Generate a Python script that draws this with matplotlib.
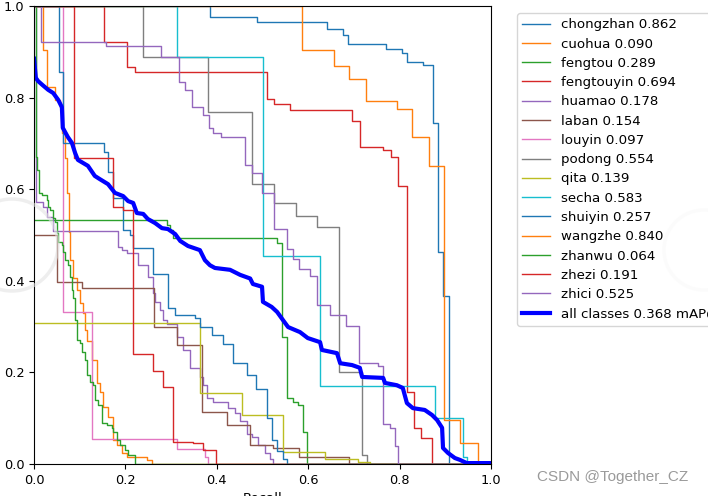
import matplotlib
matplotlib.use("Agg")
import matplotlib.pyplot as plt
from matplotlib.patches import Ellipse

# ---------------- data (recall breakpoints / precision held until next breakpoint) ----------------
names = ["chongzhan", "cuohua", "fengtou", "fengtouyin", "huamao", "laban", "louyin",
         "podong", "qita", "secha", "shuiyin", "wangzhe", "zhanwu", "zhezi", "zhici"]
ap50 = [0.862, 0.090, 0.289, 0.694, 0.178, 0.154, 0.097,
        0.554, 0.139, 0.583, 0.257, 0.840, 0.064, 0.191, 0.525]
map50 = 0.368

chongzhan_r = [0, .385, .488, .641, .676, .687, .770, .805, .816, .851, .873, .884, .895, .908, 1.0]
chongzhan_p = [1.0, .976, .965, .950, .937, .917, .906, .897, .878, .871, .745, .463, .367, 0, 0]

cuohua_r = [0, .020, .028, .046, .057, .061, .068, .072, .077, .079, .085, .094, .101, .107,
            .112, .116, .127, .138, .144, .151, .162, .173, .182, .193, .204, .247, .258, 1.0]
cuohua_p = [1.0, .904, .823, .795, .779, .723, .668, .592, .507, .445, .406, .380, .352, .330,
            .293, .269, .227, .177, .157, .124, .103, .052, .041, .024, .015, .009, 0, 0]

fengtou_r = [0, .291, .298, .304, .532, .543, .554, .567, .578, .589, .598, 1.0]
fengtou_p = [.533, .522, .511, .493, .483, .277, .144, .135, .129, .070, 0, 0]

fengtouyin_r = [0, .153, .204, .221, .510, .525, .560, .696, .713, .764, .781, .796, .816, .832, .847, .870, 1.0]
fengtouyin_p = [1.0, .921, .867, .856, .797, .786, .773, .749, .692, .686, .670, .607, .157, .079, .057, 0, 0]

huamao_r = [0, .005, .020, .028, .042, .184, .193, .204, .228, .249, .260, .265, .276, .282, .291, .313,
            .326, .341, .363, .370, .379, .392, .425, .440, .451, .466, .477, .490, .505, .516, .523, 1.0]
huamao_p = [1.0, .572, .561, .539, .509, .474, .467, .461, .434, .408, .373, .354, .336, .314, .306, .277,
            .249, .210, .190, .172, .144, .135, .122, .111, .094, .066, .059, .041, .024, .012, 0, 0]

laban_r = [0, .050, .105, .263, .313, .368, .422, .473, .523, .580, .689, 1.0]
laban_p = [.500, .397, .384, .299, .260, .114, .085, .041, .035, .015, 0, 0]

louyin_r = [0, .063, .127, .313, .374, .381, 1.0]
louyin_p = [1.0, .332, .055, .033, .015, 0, 0]

podong_r = [0, .239, .381, .477, .525, .573, .619, .667, .718, .729, 1.0]
podong_p = [1.0, .889, .769, .611, .570, .541, .517, .201, .020, 0, 0]

qita_r = [0, .363, .455, .545, .637, .709, .735, 1.0]
qita_p = [.308, .155, .107, .026, .011, .004, 0, 0]

secha_r = [0, .313, .501, .626, .877, .939, .947, 1.0]
secha_p = [1.0, .889, .454, .170, .100, .015, 0, 0]

shuiyin_r = [0, .055, .063, .153, .162, .173, .195, .210, .217, .260, .293, .309, .352, .363,
             .389, .414, .435, .466, .486, .510, .521, .532, .545, .554, 1.0]
shuiyin_p = [1.0, .856, .701, .681, .638, .581, .511, .500, .472, .415, .341, .325, .319, .299,
             .282, .262, .221, .194, .164, .100, .052, .028, .012, 0, 0]

wangzhe_r = [0, .586, .656, .689, .726, .794, .827, .864, .897, .932, .972, 1.0]
wangzhe_p = [1.0, .904, .869, .841, .793, .775, .714, .651, .096, .046, 0, 0]

zhanwu_r = [0, .004, .007, .011, .018, .028, .031, .035, .042, .046, .050, .053, .061, .063, .068,
            .074, .079, .083, .085, .090, .094, .101, .105, .112, .116, .123, .129, .133, .140, .149,
            .160, .171, .173, .182, .188, .199, .206, .221, 1.0]
zhanwu_p = [1.0, .670, .642, .592, .587, .576, .561, .555, .537, .528, .504, .485, .478, .463, .445,
            .434, .408, .380, .362, .314, .271, .264, .245, .227, .194, .179, .172, .140, .129, .090,
            .085, .079, .070, .052, .041, .031, .020, 0, 0]

zhezi_r = [0, .088, .173, .195, .217, .260, .282, .304, .348, .370, .398, 1.0]
zhezi_p = [1.0, .668, .561, .555, .240, .203, .168, .048, .046, .031, 0, 0]

zhici_r = [0, .015, .158, .278, .317, .330, .346, .370, .383, .392, .409, .462, .477, .499, .525,
           .554, .567, .580, .604, .619, .648, .683, .711, .753, .764, .779, .790, .797, 1.0]
zhici_p = [1.0, .921, .913, .889, .834, .817, .779, .762, .734, .723, .714, .653, .635, .592, .513,
           .469, .448, .426, .410, .347, .325, .301, .221, .214, .087, .079, .040, 0, 0]

# mean curve (all classes)
all_r = [0.000, 0.004, 0.009, 0.018, 0.031, 0.042, 0.053, 0.061, 0.063, 0.074, 0.083, 0.090, 0.096,
         0.118, 0.133, 0.144, 0.162, 0.177, 0.195, 0.206, 0.217, 0.225, 0.239, 0.249, 0.265, 0.280,
         0.293, 0.309, 0.320, 0.337, 0.363, 0.374, 0.385, 0.396, 0.429, 0.451, 0.473, 0.479, 0.499,
         0.501, 0.520, 0.532, 0.545, 0.556, 0.582, 0.599, 0.626, 0.630, 0.663, 0.670, 0.696, 0.713,
         0.718, 0.764, 0.768, 0.794, 0.807, 0.816, 0.829, 0.855, 0.871, 0.882, 0.893, 0.895, 0.906,
         0.921, 0.932, 0.947, 1.000]
all_p = [0.885, 0.843, 0.836, 0.828, 0.817, 0.810, 0.795, 0.779, 0.734, 0.714, 0.701, 0.679, 0.664,
         0.651, 0.629, 0.622, 0.611, 0.592, 0.585, 0.574, 0.570, 0.548, 0.546, 0.535, 0.526, 0.515,
         0.513, 0.502, 0.487, 0.476, 0.467, 0.445, 0.434, 0.428, 0.424, 0.413, 0.405, 0.393, 0.387,
         0.354, 0.343, 0.332, 0.314, 0.299, 0.288, 0.275, 0.266, 0.249, 0.242, 0.220, 0.216, 0.210,
         0.190, 0.188, 0.177, 0.172, 0.166, 0.133, 0.122, 0.118, 0.107, 0.096, 0.079, 0.035, 0.024,
         0.013, 0.009, 0.002, 0.002]

curves = [(chongzhan_r, chongzhan_p), (cuohua_r, cuohua_p), (fengtou_r, fengtou_p),
          (fengtouyin_r, fengtouyin_p), (huamao_r, huamao_p), (laban_r, laban_p),
          (louyin_r, louyin_p), (podong_r, podong_p), (qita_r, qita_p), (secha_r, secha_p),
          (shuiyin_r, shuiyin_p), (wangzhe_r, wangzhe_p), (zhanwu_r, zhanwu_p),
          (zhezi_r, zhezi_p), (zhici_r, zhici_p)]

# ---------------- figure ----------------
W, H = 708, 496
fig = plt.figure(figsize=(W / 100, H / 100), dpi=100)
ax = fig.add_axes([34 / W, (H - 464) / H, 457 / W, 458 / H])

for name, ap, (r, p) in zip(names, ap50, curves):
    ax.plot(r, p, drawstyle="steps-post", linewidth=1, label=f"{name} {ap:.3f}")
ax.plot(all_r, all_p, linewidth=3, color="blue", label=f"all classes {map50:.3f} mAP@0.5")

ax.set_xlim(0, 1)
ax.set_ylim(0, 1)
ax.set_xlabel("Recall", fontsize=9.5)
ax.set_ylabel("Precision", fontsize=9.5)
ax.tick_params(labelsize=9.3)

fig.legend(*ax.get_legend_handles_labels(), loc="upper left",
           bbox_to_anchor=(517 / W, 1 - 13 / H), fontsize=9.6,
           labelspacing=0.47, handlelength=2.1, borderaxespad=0)

# watermark
fig.text(537 / W, 1 - 477 / H, "CSDN @Together_CZ", fontsize=11,
         family="Liberation Sans", color="#9a9a9a", va="center", ha="left")
for cx, cy, rr in [(12, 245, 46), (704, 250, 40)]:
    fig.patches.append(Ellipse((cx / W, 1 - cy / H), 2 * rr / W, 2 * rr / H,
                               transform=fig.transFigure, fill=False,
                               edgecolor="#e4e4e4", linewidth=2.5, alpha=0.6))

fig.savefig("out.png", dpi=100)
